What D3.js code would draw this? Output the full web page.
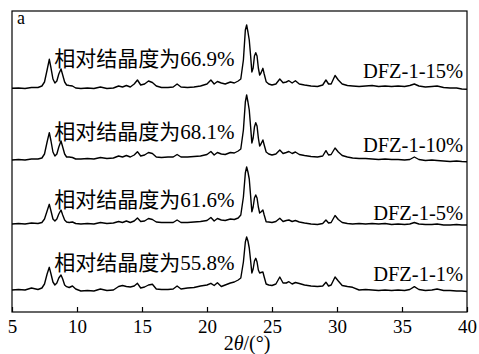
<!DOCTYPE html>
<html>
<head>
<meta charset="utf-8">
<script src="https://cdn.jsdelivr.net/npm/d3@7"></script>
<style>
  body { margin: 0; background: #fff; }
  svg text { fill: #000; font-family: "Liberation Serif", "DejaVu Serif", serif; }
  svg text.cn { font-family: "Liberation Serif", "Noto Sans CJK SC", serif; }
</style>
</head>
<body>
<div id="chart"></div>
<script>
// 2θ grid (degrees)
const twoTheta = [
  5, 5.5, 6, 6.5, 7, 7.3, 7.5, 7.7, 7.87, 8.0,
  8.15, 8.3, 8.45, 8.6, 8.77, 8.9, 9.05, 9.2, 9.4, 9.65,
  9.9, 10.3, 10.8, 11.3, 11.8, 12.3, 12.8, 13.2, 13.5, 13.8,
  14.1, 14.4, 14.65, 14.9, 15.2, 15.5, 15.8, 16.1, 16.5, 17.0,
  17.4, 17.7, 18.0, 18.5, 19.0, 19.5, 20.0, 20.3, 20.55, 20.8,
  21.1, 21.4, 21.8, 22.1, 22.4, 22.6, 22.8, 22.95, 23.05, 23.15,
  23.25, 23.35, 23.45, 23.55, 23.65, 23.75, 23.85, 23.95, 24.05, 24.15,
  24.3, 24.4, 24.55, 24.75, 25.0, 25.3, 25.6, 25.85, 26.1, 26.3,
  26.55, 26.8, 27.1, 27.5, 28.0, 28.5, 28.9, 29.15, 29.35, 29.55,
  29.85, 30.1, 30.4, 30.8, 31.2, 31.7, 32.2, 32.7, 33.2, 33.7,
  34.2, 34.7, 35.2, 35.6, 35.95, 36.3, 36.8, 37.3, 37.7, 38.2,
  38.7, 39.2, 39.6, 40
];

// intensities (a.u.)
const dfz15 = [
  22.7, 23, 22.5, 23.5, 23.5, 25, 29, 41, 51.7, 43,
  32, 28, 30, 37, 42, 36, 29, 26, 25.5, 25,
  23, 22.5, 23, 22.5, 24, 22.5, 23, 25, 24, 25.5,
  24, 27, 31, 26, 27, 30, 28.5, 25, 23.5, 23.5,
  24, 27, 24, 23.5, 24, 25, 27, 31, 27, 29.5,
  28, 27, 29, 28, 30, 32, 51, 81, 86, 79,
  71, 56, 39, 43, 55, 58.3, 55, 43, 36, 38,
  42.7, 37, 29.3, 27, 26, 27, 32, 28.3, 29, 30.3,
  28, 30.3, 27, 26, 25, 24.5, 26, 31, 27, 27,
  35.5, 31, 27, 25.5, 25, 24.5, 25, 25.5, 24.5, 25,
  24.5, 25, 24.5, 25.5, 27, 25, 24, 24.5, 25, 23.5,
  23, 23, 22, 21.7
];
const dfz10 = [
  18, 18.5, 18, 19, 19, 20, 24, 36, 45.3, 37,
  26, 22, 24, 31, 37, 31, 24, 21, 21, 20.5,
  19, 19, 19.5, 19, 20.5, 19.5, 20, 22, 21, 22.5,
  21, 23, 26.3, 22, 23, 25.5, 24.5, 21, 20.5, 21,
  21, 23.5, 21, 21, 21.5, 22, 23.5, 26.5, 23, 25.5,
  24, 23.5, 25.5, 25, 27, 29, 48, 76, 83, 76,
  68, 52, 35, 40, 51, 55.3, 52, 40, 32, 34,
  38, 33, 26, 24, 23, 24, 28, 24.5, 25.5, 26.5,
  24.5, 26, 23.5, 22.5, 21.5, 21, 22, 27.3, 23, 23.5,
  30, 26, 22.5, 21, 20, 19.5, 19.5, 19, 18.5, 19,
  18.5, 18.5, 18, 18.5, 21, 18.5, 17.5, 18, 17.5, 17,
  16.5, 17, 16.5, 16.3
];
const dfz5 = [
  21, 21.5, 21, 22, 21.5, 22.5, 26, 34, 40.7, 34,
  26, 24, 26, 31, 35, 30, 25, 23, 22.5, 23,
  21.5, 21, 21.5, 21, 22.5, 21.5, 22, 23.5, 22.5, 24,
  22.5, 24, 27, 23.5, 24, 26.5, 25.5, 23, 22.5, 22.5,
  22.5, 25, 22.5, 22.5, 23, 23.5, 24.5, 27.5, 24, 26.5,
  25, 24.5, 26, 25.5, 27, 30, 48, 72, 78, 73,
  66, 50, 33.3, 38, 47, 50, 47, 38, 32, 33,
  35, 30, 23.3, 23, 22.5, 23.5, 26.7, 23.5, 24.5, 25,
  23.5, 24.5, 23, 22, 21, 20.5, 21.5, 25, 22, 22.5,
  29.5, 25.5, 22.5, 21.5, 21, 21.5, 21, 21.5, 21, 21.5,
  20.5, 21, 20.5, 21, 22.5, 21, 20.5, 20.5, 21, 20,
  20, 20.5, 20, 20
];
const dfz1 = [
  22, 22.5, 22, 24, 22.5, 24, 28, 38, 44.7, 38,
  30, 27, 29, 34, 37, 33, 27, 25.3, 24.5, 26,
  23, 21, 21.5, 21, 23, 21.5, 22, 25.5, 26.5, 25.5,
  25, 26, 28.7, 24, 25, 27, 27.7, 23, 22.5, 22.5,
  23, 26, 23, 24, 24.5, 26, 27, 28.7, 26.5, 29.3,
  25.5, 27, 29, 30, 32, 34, 50, 70, 75, 71,
  64, 52, 39, 43, 51, 53.7, 50, 42, 39, 39.5,
  40, 35, 28, 27, 26.5, 28, 35, 29, 29, 30.3,
  28, 29.5, 28.5, 27, 26, 25.5, 26, 29.8, 26, 27,
  35, 31, 26.5, 25.5, 24.7, 22, 22.5, 22, 21.5, 22,
  21.5, 22, 21.5, 22.5, 25.3, 22.5, 21.5, 22, 23, 21.5,
  21.5, 21, 21, 20.5
];

const seriesValues = [dfz15, dfz10, dfz5, dfz1];
const sampleNames = ["DFZ-1-15%", "DFZ-1-10%", "DFZ-1-5%", "DFZ-1-1%"];
const crystallinity = ["66.9%", "68.1%", "61.6%", "55.8%"];
const stackOffsets = [201, 134, 67, 0];
const xTicks = [5, 10, 15, 20, 25, 30, 35, 40];

// layout (label heights in intensity units)
const cnLabelY = [246, 173, 105, 42];
const nameLabelY = [234, 160.5, 92, 31.5];

const width = 479;
const height = 354;
const margin = { top: 11, right: 12, bottom: 42, left: 12 };

const svg = d3.select('#chart')
  .append('svg')
  .attr('width', width)
  .attr('height', height);

const x = d3.scaleLinear()
  .domain([5, 40])
  .range([margin.left, width - margin.right]);

const y = d3.scaleLinear()
  .domain([0, 301])
  .range([height - margin.bottom, margin.top]);

const line = d3.line()
  .x(d => x(d[0]))
  .y(d => y(d[1]));

seriesValues.forEach((vals, i) => {
  const pts = twoTheta.map((t, j) => [t, vals[j] + stackOffsets[i]]);
  svg.append('path')
    .datum(pts)
    .attr('d', line)
    .attr('fill', 'none')
    .attr('stroke', '#000')
    .attr('stroke-width', 1.4)
    .attr('stroke-linejoin', 'round');

  svg.append('text')
    .attr('class', 'cn')
    .attr('x', x(8.25))
    .attr('y', y(cnLabelY[i]))
    .style('font-size', '21px')
    .text('相对结晶度为' + crystallinity[i]);

  svg.append('text')
    .attr('x', x(39.7))
    .attr('y', y(nameLabelY[i]))
    .attr('text-anchor', 'end')
    .style('font-size', '20.5px')
    .text(sampleNames[i]);
});

// bottom axis, ticks pointing inward
const xAxis = d3.axisBottom(x)
  .tickValues(xTicks)
  .tickSizeInner(-5)
  .tickSizeOuter(0)
  .tickPadding(8);

const gx = svg.append('g')
  .attr('transform', `translate(0,${height - margin.bottom})`)
  .call(xAxis);
gx.attr('font-family', null).attr('font-size', null);
gx.select('.domain').remove();
gx.selectAll('line').attr('stroke', '#000').attr('stroke-width', 1.2);
gx.selectAll('text')
  .attr('fill', '#000')
  .style('font-size', '19px');

// frame
svg.append('rect')
  .attr('x', margin.left)
  .attr('y', margin.top)
  .attr('width', width - margin.left - margin.right)
  .attr('height', height - margin.top - margin.bottom)
  .attr('fill', 'none')
  .attr('stroke', '#000')
  .attr('stroke-width', 1.2);

// axis title
const title = svg.append('text')
  .attr('x', 247)
  .attr('y', 350)
  .attr('text-anchor', 'middle')
  .style('font-size', '20px');
title.append('tspan').text('2');
title.append('tspan').style('font-style', 'italic').text('θ');
title.append('tspan').text('/(°)');

// panel letter
svg.append('text')
  .attr('x', 17)
  .attr('y', 23.5)
  .style('font-size', '18px')
  .text('a');
</script>
</body>
</html>
